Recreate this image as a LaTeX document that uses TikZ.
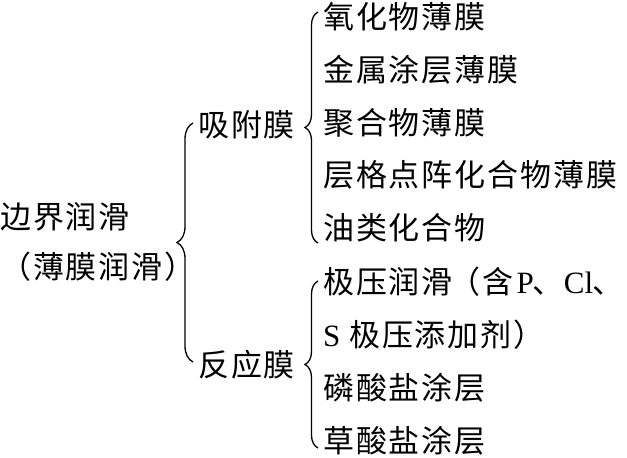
\documentclass[tikz,border=0pt]{standalone}
\usepackage{fontspec}
\setmainfont{Liberation Serif}
\newfontfamily\cjk[LetterSpace=6]{Noto Sans CJK SC}
\usetikzlibrary{decorations.pathreplacing}
\tikzset{lbl/.style={anchor=west,inner sep=0pt,font=\cjk\fontsize{31}{31}\selectfont}}
\tikzset{brc/.style={line width=1.3pt,decorate,decoration={brace,amplitude=#1}}}
\begin{document}
\begin{tikzpicture}[x=1pt,y=-1pt]
\useasboundingbox(0,0)rectangle(627,458);
% left
\node[lbl](bj)at(0,217){边界润滑};
\node[lbl](bm)at(0,267){（薄膜润滑）};
% middle
\node[lbl](xf)at(198,125){吸附膜};
\node[lbl](fy)at(198,365){反应膜};
% adsorbed films
\node[lbl](a1)at(323,17){氧化物薄膜};
\node[lbl](a2)at(323,70){金属涂层薄膜};
\node[lbl](a3)at(323,123){聚合物薄膜};
\node[lbl](a4)at(323,175){层格点阵化合物薄膜};
\node[lbl](a5)at(323,228){油类化合物};
% reaction films
\node[lbl](b1)at(323,282){极压润滑\hspace{-3pt}（含\hspace{3pt}{\rmfamily P}\hspace{-1pt}、{\rmfamily Cl}\hspace{-1pt}、\hspace{-17pt}};
\node[lbl](b2)at(323,335){{\rmfamily S} 极压添加剂）};
\node[lbl](b3)at(323,388){磷酸盐涂层};
\node[lbl](b4)at(323,441){草酸盐涂层};
% braces
\coordinate(bigtop)at(193,123);\coordinate(bigbot)at(193,362);
\coordinate(atop)at(318,12);\coordinate(abot)at(318,243);
\coordinate(btop)at(318,281);\coordinate(bbot)at(318,448);
\draw[brc=16](bigbot)--(bigtop);
\draw[brc=13](abot)--(atop);
\draw[brc=13](bbot)--(btop);
\end{tikzpicture}
\end{document}
